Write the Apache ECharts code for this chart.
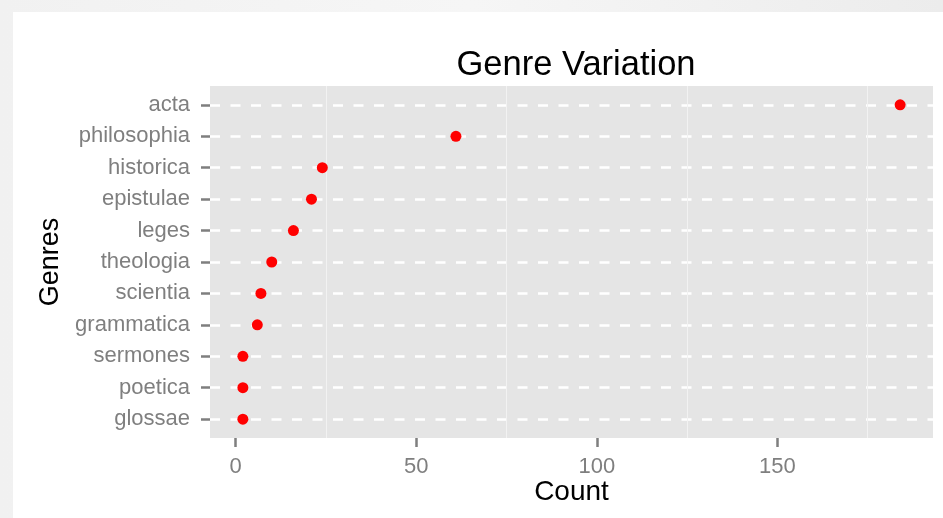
<!DOCTYPE html>
<html>
<head>
<meta charset="utf-8">
<script src="https://cdn.jsdelivr.net/npm/echarts@6/dist/echarts.min.js"></script>
<style>
html,body{margin:0;padding:0;width:943px;height:518px;overflow:hidden;background:linear-gradient(90deg,#f1f1f1,#f6f6f6 50%,#ececec);}
#card{position:absolute;left:13px;top:12px;width:930px;height:506px;background:#ffffff;}
#chart{position:absolute;left:0;top:0;width:943px;height:518px;}
</style>
</head>
<body>
<div id="card"></div>
<div id="chart"></div>
<script>
const categories = ['acta','philosophia','historica','epistulae','leges','theologia','scientia','grammatica','sermones','poetica','glossae'];
const counts = [184, 61, 24, 21, 16, 10, 7, 6, 2, 2, 2];
const xTicks = [0, 50, 100, 150];
const xMinorTicks = [25, 75, 125, 175];

const idx = categories.map((c, i) => i);
const font = 'Liberation Sans, Arial, Helvetica, sans-serif';
const chart = echarts.init(document.getElementById('chart'), null, {renderer: 'canvas'});
chart.setOption({
  animation: false,
  backgroundColor: 'transparent',
  title: {
    text: 'Genre Variation', left: 571, top: 43, textAlign: 'center',
    textStyle: {fontFamily: font, fontSize: 34.5, fontWeight: 'normal', color: '#000'}
  },
  grid: {left: 210, right: 10, top: 86, bottom: 80, show: true, backgroundColor: '#e5e5e5', borderWidth: 0},
  xAxis: [{
    type: 'value', min: -7.1, max: 193.1,
    name: 'Count', nameLocation: 'middle', nameGap: 40, nameMoveOverlap: false,
    nameTextStyle: {fontFamily: font, fontSize: 28, color: '#000'},
    axisLine: {show: false, onZero: false},
    axisTick: {show: true, length: 9, inside: false, customValues: xTicks, lineStyle: {color: '#7f7f7f', width: 2.5}},
    axisLabel: {customValues: xTicks, margin: 18, fontFamily: font, fontSize: 22, color: '#7f7f7f'},
    splitLine: {show: false}
  }, {
    type: 'value', min: -7.1, max: 193.1, position: 'bottom',
    axisLine: {show: false, onZero: false},
    axisTick: {show: false, customValues: xMinorTicks},
    axisLabel: {show: false, customValues: xMinorTicks},
    splitLine: {show: true, lineStyle: {color: '#f2f2f2', width: 1}}
  }],
  yAxis: {
    type: 'value', min: -0.6, max: 10.6, inverse: true,
    name: 'Genres', nameLocation: 'middle', nameGap: 146, nameRotate: 90, nameMoveOverlap: false,
    nameTextStyle: {fontFamily: font, fontSize: 27, color: '#000'},
    axisLine: {show: false, onZero: false},
    axisTick: {show: true, length: 9, customValues: idx, lineStyle: {color: '#7f7f7f', width: 2.5}},
    axisLabel: {customValues: idx, margin: 20, fontFamily: font, fontSize: 22, color: '#7f7f7f',
      formatter: v => categories[Math.round(v)]},
    splitLine: {show: true, lineStyle: {color: '#ffffff', width: 2.5, type: [10, 10.5]}}
  },
  series: [{
    type: 'scatter', xAxisIndex: 0, symbolSize: 11,
    itemStyle: {color: '#ff0000', opacity: 1},
    data: counts.map((v, i) => [v, i])
  }]
});
</script>
</body>
</html>
